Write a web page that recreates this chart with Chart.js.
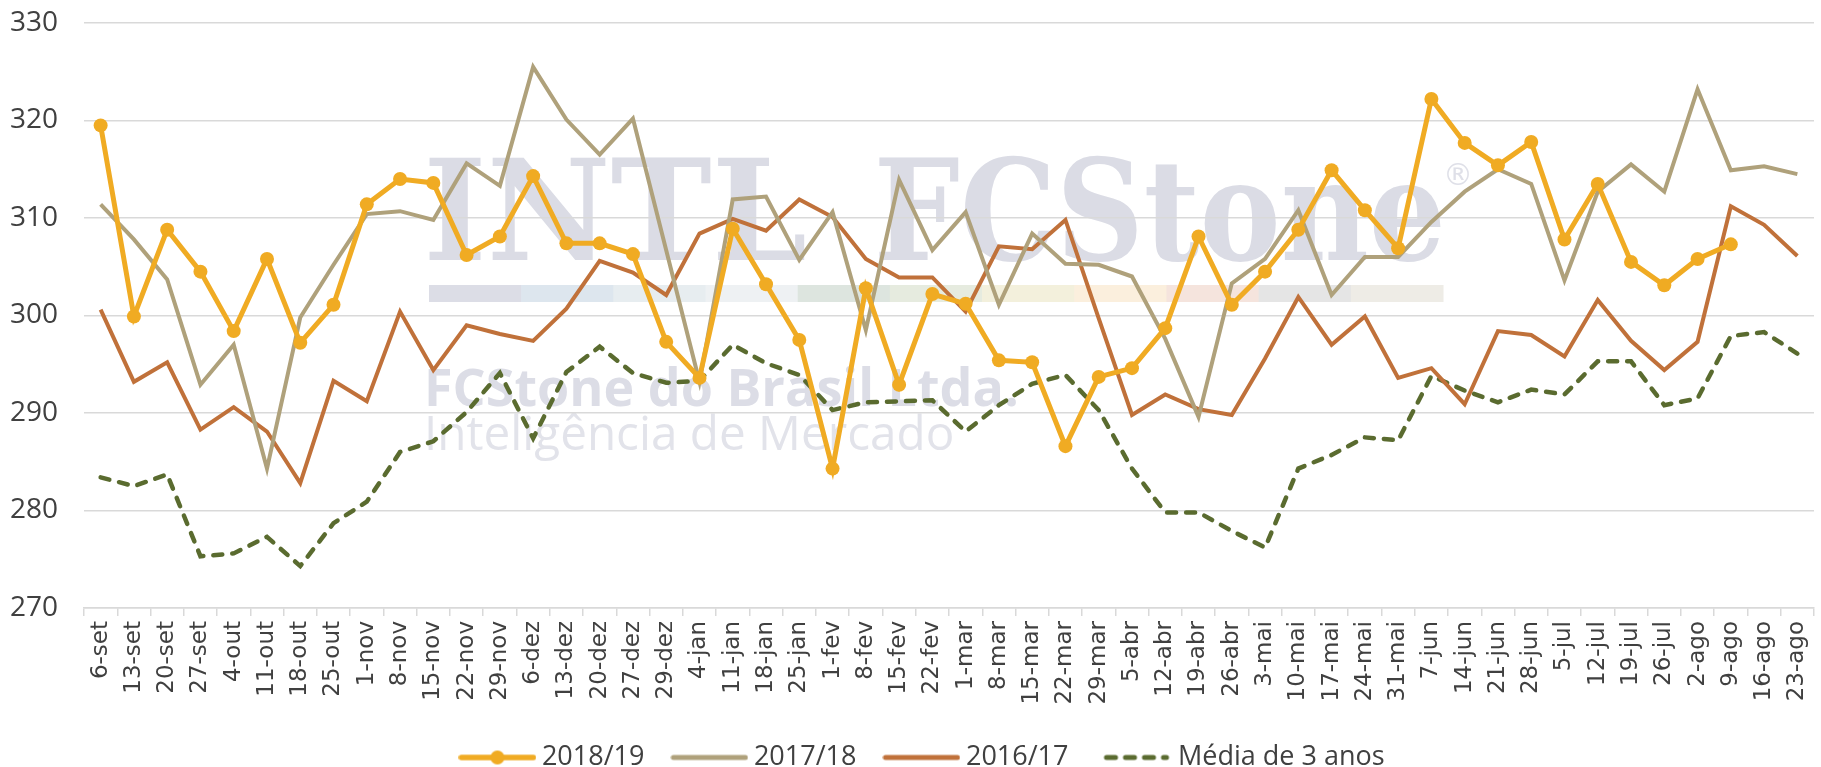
<!DOCTYPE html>
<html lang="pt">
<head>
  <meta charset="UTF-8" />
  <title>Preço semanal</title>
  <script src="https://cdn.jsdelivr.net/npm/chart.js"></script>
  <style>
    body {
      margin: 0;
      padding: 0;
      background: #fff;
    }
    .wrap {
      width: 1821px;
      height: 767px;
    }
  </style>
</head>
<body>
  <div class="wrap">
    <canvas id="chart" width="1821" height="767"></canvas>
  </div>
  <script>
    const weeks = ["6-set", "13-set", "20-set", "27-set", "4-out", "11-out", "18-out", "25-out",
      "1-nov", "8-nov", "15-nov", "22-nov", "29-nov", "6-dez", "13-dez", "20-dez", "27-dez", "29-dez",
      "4-jan", "11-jan", "18-jan", "25-jan", "1-fev", "8-fev", "15-fev", "22-fev", "1-mar", "8-mar",
      "15-mar", "22-mar", "29-mar", "5-abr", "12-abr", "19-abr", "26-abr", "3-mai", "10-mai", "17-mai",
      "24-mai", "31-mai", "7-jun", "14-jun", "21-jun", "28-jun", "5-jul", "12-jul", "19-jul", "26-jul",
      "2-ago", "9-ago", "16-ago", "23-ago"];

    const season1819 = [319.5, 299.9, 308.8, 304.5, 298.4, 305.8, 297.2, 301.1, 311.4, 314.0,
      313.6, 306.2, 308.1, 314.3, 307.4, 307.4, 306.3, 297.3, 293.6, 308.9,
      303.2, 297.5, 284.3, 302.8, 292.9, 302.2, 301.2, 295.4, 295.2, 286.6,
      293.7, 294.6, 298.7, 308.1, 301.1, 304.5, 308.8, 314.9, 310.8, 306.9,
      322.2, 317.7, 315.4, 317.8, 307.8, 313.5, 305.5, 303.1, 305.8, 307.3];

    const season1718 = [311.4, 307.8, 303.7, 292.9, 297.0, 284.3, 299.8, 305.2, 310.4, 310.7,
      309.8, 315.6, 313.3, 325.5, 320.1, 316.5, 320.2, 306.7, 293.2, 311.9,
      312.2, 305.7, 310.6, 298.5, 313.9, 306.7, 310.6, 301.1, 308.4, 305.3,
      305.2, 304.0, 297.6, 289.6, 303.3, 305.8, 310.8, 302.1, 306.0, 306.0,
      309.6, 312.7, 315.0, 313.5, 303.6, 312.7, 315.5, 312.7, 323.2, 314.9,
      315.3, 314.5];

    const season1617 = [300.6, 293.2, 295.2, 288.3, 290.6, 288.1, 282.8, 293.3, 291.2, 300.4,
      294.4, 299.0, 298.1, 297.4, 300.7, 305.6, 304.4, 302.1, 308.4, 309.9,
      308.7, 311.9, 310.1, 305.8, 303.9, 303.9, 300.4, 307.1, 306.8, 309.8,
      299.7, 289.8, 291.9, 290.4, 289.8, 295.6, 301.9, 297.0, 299.9, 293.6,
      294.6, 290.9, 298.4, 298.0, 295.8, 301.6, 297.4, 294.4, 297.3, 311.2,
      309.3, 306.1];

    const avg3y = [283.4, 282.5, 283.7, 275.3, 275.6, 277.3, 274.3, 278.7, 280.9, 286.0,
      287.1, 290.1, 294.1, 287.4, 294.2, 296.8, 294.1, 293.1, 293.3, 297.0,
      295.1, 293.9, 290.3, 291.1, 291.2, 291.3, 288.1, 290.8, 293.0, 293.9,
      290.3, 284.3, 279.8, 279.8, 277.9, 276.2, 284.3, 285.7, 287.5, 287.2,
      293.8, 292.3, 291.1, 292.4, 291.9, 295.3, 295.3, 290.8, 291.5, 297.9,
      298.3, 296.1];

    const yTicks = [270, 280, 290, 300, 310, 320, 330];

    const cYellow = "#f0ab23";
    const cTan = "#afa17b";
    const cBrown = "#c0713a";
    const cGreen = "#5a6b2f";

    const stripeColors = ["#dcdde6", "#dde6ee", "#e7edf0", "#eef1f3", "#dde5df", "#e6ebdf",
      "#f3f0dc", "#fbefdd", "#f5e4dd", "#e5e5e5", "#eeece6"];

    // faded company logo behind the grid
    function drawFitted(g, text, font, color, left, baseline, width) {
      g.save();
      g.font = font;
      g.fillStyle = color;
      g.textBaseline = "alphabetic";
      g.textAlign = "left";
      const m = g.measureText(text);
      const w = m.actualBoundingBoxLeft + m.actualBoundingBoxRight;
      g.translate(left, baseline);
      g.scale(width / w, 1);
      g.fillText(text, m.actualBoundingBoxLeft, 0);
      g.restore();
    }

    const watermark = {
      id: "watermark",
      afterLayout(chart) {
        // the legend in the original sits a little right of centre
        chart.legend.left += 18;
        chart.legend.right += 18;
      },
      beforeDraw(chart) {
        const g = chart.ctx;
        const serif = 'bold 141px "DejaVu Serif", serif';
        drawFitted(g, "INTL", serif, "#dbdce5", 429, 260, 376);
        drawFitted(g, "FCStone", serif, "#dbdce5", 879, 260, 562);

        g.save();
        g.font = '30px "DejaVu Sans", sans-serif';
        g.fillStyle = "#dfe0e8";
        const r = g.measureText("®");
        g.fillText("®", 1458 - (r.actualBoundingBoxRight - r.actualBoundingBoxLeft) / 2,
          174 + (r.actualBoundingBoxAscent - r.actualBoundingBoxDescent) / 2);
        g.restore();

        const segW = 1014 / stripeColors.length;
        stripeColors.forEach((c, i) => {
          g.fillStyle = c;
          g.fillRect(429 + i * segW, 285, segW + 0.5, 17);
        });

        drawFitted(g, "FCStone do Brasil Ltda.", 'bold 52px "Open Sans", sans-serif', "#dcdde6", 428, 406, 588);
        drawFitted(g, "Inteligência de Mercado", '47px "Open Sans", sans-serif', "#e2e3ea", 428, 450, 524);
      }
    };

    // little legend swatches (line, line + marker, dashed line)
    function swatch(color, width, marker, dashed) {
      const c = document.createElement("canvas");
      c.width = 78;
      c.height = 16;
      const g = c.getContext("2d");
      g.strokeStyle = color;
      g.fillStyle = color;
      g.lineWidth = width;
      g.lineCap = "round";
      if (dashed) g.setLineDash([9, 10]);
      g.beginPath();
      g.moveTo(dashed ? 12 : 3, 8);
      g.lineTo(dashed ? 72 : 75, 8);
      g.stroke();
      if (marker) {
        g.beginPath();
        g.arc(39, 8, 7, 0, Math.PI * 2);
        g.fill();
      }
      return c;
    }

    const swatches = [
      swatch(cYellow, 5.5, true, false),
      swatch(cTan, 5, false, false),
      swatch(cBrown, 5, false, false),
      swatch(cGreen, 5, false, true)
    ];

    const ctx = document.getElementById("chart").getContext("2d");
    new Chart(ctx, {
      type: "line",
      data: {
        labels: weeks,
        datasets: [
          {
            label: "2018/19",
            data: season1819,
            borderColor: cYellow,
            backgroundColor: cYellow,
            borderWidth: 5,
            pointRadius: 7,
            pointBackgroundColor: cYellow,
            pointBorderWidth: 0,
            tension: 0,
            order: 0
          },
          {
            label: "2017/18",
            data: season1718,
            borderColor: cTan,
            backgroundColor: cTan,
            borderWidth: 4,
            pointRadius: 0,
            tension: 0,
            order: 1
          },
          {
            label: "2016/17",
            data: season1617,
            borderColor: cBrown,
            backgroundColor: cBrown,
            borderWidth: 4,
            pointRadius: 0,
            tension: 0,
            order: 2
          },
          {
            label: "Média de 3 anos",
            data: avg3y,
            borderColor: cGreen,
            backgroundColor: cGreen,
            borderWidth: 4.5,
            borderDash: [9, 10],
            borderCapStyle: "round",
            pointRadius: 0,
            tension: 0,
            order: 3
          }
        ]
      },
      options: {
        responsive: false,
        animation: false,
        layout: { padding: { top: 23, right: 6, left: 0, bottom: -14 } },
        plugins: {
          tooltip: { enabled: false },
          legend: {
            position: "bottom",
            labels: {
              usePointStyle: true,
              pointStyleWidth: 62,
              boxHeight: 16,
              padding: 34,
              color: "#404040",
              font: { family: '"Liberation Sans Narrow", "Open Sans", sans-serif', size: 27 },
              generateLabels: (chart) => chart.data.datasets.map((ds, i) => ({
                text: ds.label,
                pointStyle: swatches[i],
                fillStyle: ds.borderColor,
                strokeStyle: ds.borderColor,
                lineWidth: 0,
                fontColor: "#404040",
                hidden: false,
                datasetIndex: i
              }))
            }
          }
        },
        scales: {
          x: {
            offset: true,
            afterFit: (scale) => {
              scale.height = 102;
              scale.paddingLeft = 0;
              scale.paddingRight = 0;
            },
            grid: {
              offset: true,
              drawOnChartArea: false,
              drawTicks: true,
              tickLength: 8,
              color: "#d9d9d9",
              lineWidth: 1.5
            },
            border: { display: true, color: "#d9d9d9", width: 1.5 },
            ticks: {
              autoSkip: false,
              maxRotation: 90,
              minRotation: 90,
              padding: 5,
              color: "#404040",
              font: { family: '"DejaVu Sans", sans-serif', size: 23 }
            }
          },
          y: {
            min: 270,
            max: 330,
            afterFit: (scale) => {
              scale.width = 84;
              scale.paddingTop = 0;
              scale.paddingBottom = 0;
            },
            afterBuildTicks: (scale) => { scale.ticks = yTicks.map(v => ({ value: v })); },
            grid: { color: "#d9d9d9", lineWidth: 1.5, drawTicks: false },
            border: { display: false },
            ticks: {
              padding: 26,
              color: "#404040",
              font: { family: '"Liberation Sans Narrow", "Open Sans", sans-serif', size: 28 }
            }
          }
        }
      },
      plugins: [watermark]
    });
  </script>
</body>
</html>
